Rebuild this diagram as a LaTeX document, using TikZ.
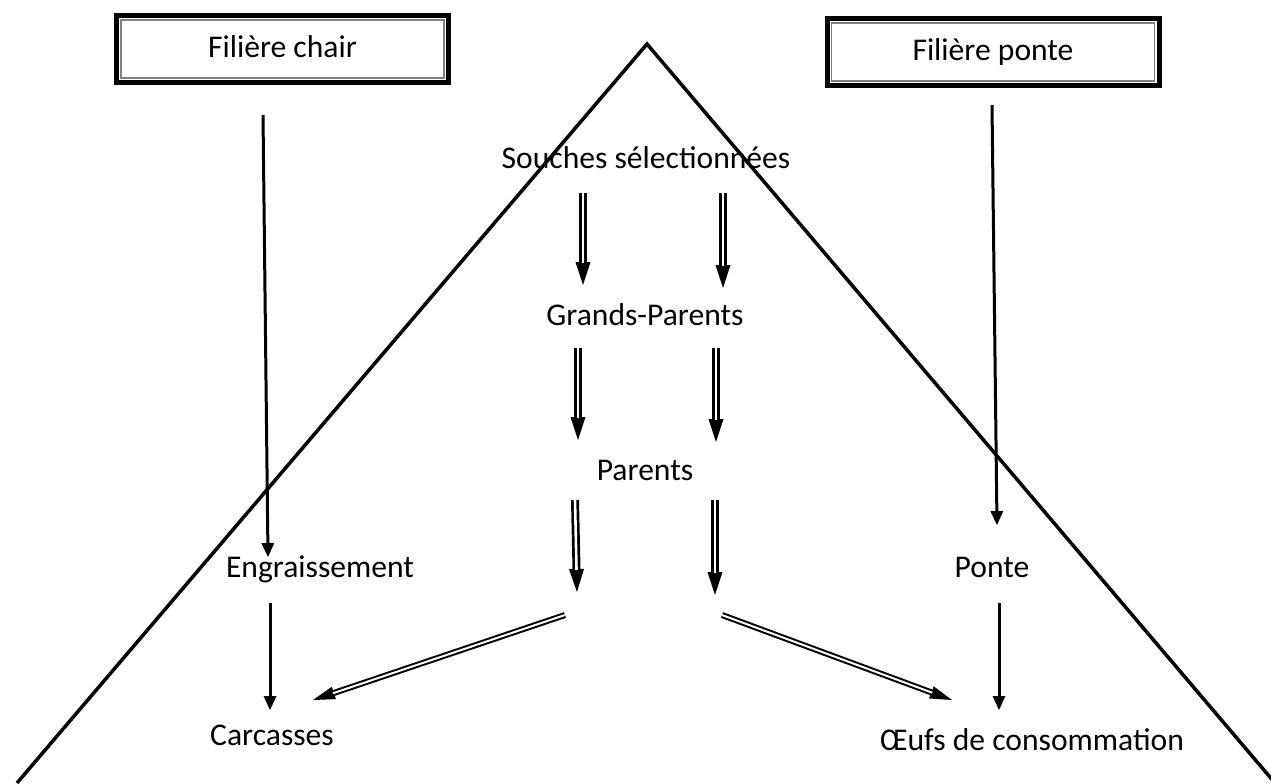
\documentclass[tikz,border=0pt]{standalone}
\usepackage{fontspec}
\setmainfont{Carlito}
\usetikzlibrary{arrows.meta}

\tikzset{
  lbl/.style={font=\fontsize{15.8pt}{19pt}\selectfont, inner sep=0pt, anchor=base},
  filiere/.style={draw, line width=2.5pt, outer sep=0pt, inner sep=0pt,
    minimum width=166pt, minimum height=33.5pt,
    font=\fontsize{15.8pt}{19pt}\selectfont, text height=11.5pt, text depth=3pt},
  simple/.style={line width=1.5pt, -{Triangle[length=7pt,width=6.5pt,line width=0pt]}},
  dbl/.style={line width=4pt, -{Triangle[length=11.5pt,width=7.5pt,line width=0pt]},
    postaction={draw=white, line width=1.3pt, -, shorten >=11pt}},
  dbldiag/.style={line width=3pt, -{Triangle[length=11pt,width=6.5pt,line width=0pt]},
    postaction={draw=white, line width=1pt, -, shorten >=10.5pt}},
}

\begin{document}
\begin{tikzpicture}[x=0.5pt, y=-0.5pt]
  \useasboundingbox (0,0) rectangle (1271,783);

  % Pyramid
  \draw[line width=1.75pt, line join=miter] (17,783) -- (647,44) -- (1275,783);

  % Boxes
  \node[filiere] (chair) at (282.5,49) {Filière chair};
  \node[filiere] (ponte) at (993,52) {Filière ponte};
  \draw[gray, line width=0.75pt] ([xshift=2.25pt,yshift=-2.25pt]chair.north west) rectangle ([xshift=-2.25pt,yshift=2.25pt]chair.south east);
  \draw[gray, line width=0.75pt] ([xshift=2.25pt,yshift=-2.25pt]ponte.north west) rectangle ([xshift=-2.25pt,yshift=2.25pt]ponte.south east);

  % Labels
  \node[lbl] (souches) at (646,168) {Souches sélectionnées};
  \node[lbl] (gp)      at (645,325) {Grands-Parents};
  \node[lbl] (par)     at (645,480) {Parents};
  \node[lbl] (engr)    at (320,577) {Engraissement};
  \node[lbl] (pte)     at (992,577) {Ponte};
  \node[lbl] (carc)    at (272,745) {Carcasses};
  \node[lbl] (oeufs)   at (1032,750) {Œufs de consommation};

  % Arrow ends
  \coordinate (c1) at (263,115);
  \coordinate (c2) at (268,557);
  \coordinate (c3) at (270,603);
  \coordinate (c4) at (270,710);
  \coordinate (p1) at (992,105);
  \coordinate (p2) at (997,525);
  \coordinate (p3) at (999,603);
  \coordinate (p4) at (999,710);

  \coordinate (s1) at (583,193);
  \coordinate (s2) at (583,285);
  \coordinate (s3) at (723,193);
  \coordinate (s4) at (723,288);
  \coordinate (g1) at (578,348);
  \coordinate (g2) at (578,440);
  \coordinate (g3) at (716,348);
  \coordinate (g4) at (716,442);
  \coordinate (r1) at (575,500);
  \coordinate (r2) at (577,592);
  \coordinate (r3) at (715,500);
  \coordinate (r4) at (715,595);
  \coordinate (d1) at (565,615);
  \coordinate (d2) at (313,700);
  \coordinate (d3) at (722,615);
  \coordinate (d4) at (952,700);

  % Side chains
  \draw[simple] (c1) -- (c2);
  \draw[simple] (c3) -- (c4);
  \draw[simple] (p1) -- (p2);
  \draw[simple] (p3) -- (p4);

  % Centre chain
  \draw[dbl] (s1) -- (s2);
  \draw[dbl] (s3) -- (s4);
  \draw[dbl] (g1) -- (g2);
  \draw[dbl] (g3) -- (g4);
  \draw[dbl] (r1) -- (r2);
  \draw[dbl] (r3) -- (r4);
  \draw[dbldiag] (d1) -- (d2);
  \draw[dbldiag] (d3) -- (d4);
\end{tikzpicture}
\end{document}
